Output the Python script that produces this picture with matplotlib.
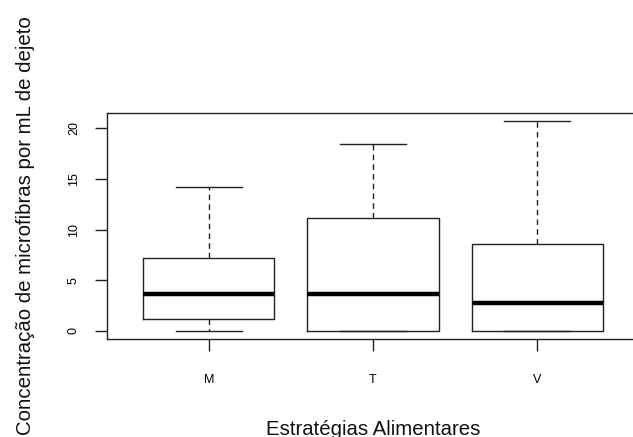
import matplotlib
matplotlib.use("Agg")
import matplotlib.pyplot as plt

plt.rcParams['font.family'] = ['Liberation Sans', 'DejaVu Sans']

# estratégias e resumo dos boxplots
grupos = ['M', 'T', 'V']
minimo = [0.0, 0.0, 0.0]
q1 = [1.1, 0.0, 0.0]
mediana = [3.6, 3.65, 2.75]
q3 = [7.15, 11.15, 8.55]
maximo = [14.25, 18.5, 20.7]

stats = []
for i, g in enumerate(grupos):
    stats.append({'label': g, 'whislo': minimo[i], 'q1': q1[i], 'med': mediana[i],
                  'q3': q3[i], 'whishi': maximo[i], 'fliers': []})

fig = plt.figure(figsize=(6.33, 4.37), dpi=100)
ax = fig.add_axes([107/633, (437-339)/437, (639-107)/633, (339-113)/437])

cor = '#222222'
ax.bxp(stats, positions=[1, 2, 3], widths=0.8, showfliers=False,
       boxprops={'color': cor, 'linewidth': 1.0},
       medianprops={'color': 'black', 'linewidth': 3.2, 'solid_capstyle': 'butt'},
       whiskerprops={'color': cor, 'linewidth': 1.0, 'linestyle': (0, (4, 3))},
       capprops={'color': cor, 'linewidth': 1.0}, capwidths=0.4)

ax.set_xlim(0.38, 3.62)
ax.set_ylim(-0.83, 21.53)
ax.set_yticks([0, 5, 10, 15, 20])
ax.set_yticklabels(['0', '5', '10', '15', '20'], rotation=90, va='center')
ax.set_xticks([1, 2, 3])
ax.set_xticklabels(grupos)
for s in ax.spines.values():
    s.set_color(cor)
    s.set_linewidth(1.0)
ax.tick_params(axis='y', length=8.5, width=1.0, pad=11, labelsize=9, color=cor)
ax.tick_params(axis='x', length=8.5, width=1.0, pad=17, labelsize=9, color=cor)

ax.set_xlabel('Estratégias Alimentares', fontsize=14.7, labelpad=24, color='#111111')
ax.set_ylabel('Concentração de microfibras por mL de dejeto', fontsize=14.7,
              labelpad=24, color='#111111')

fig.savefig('out.png', dpi=100)
